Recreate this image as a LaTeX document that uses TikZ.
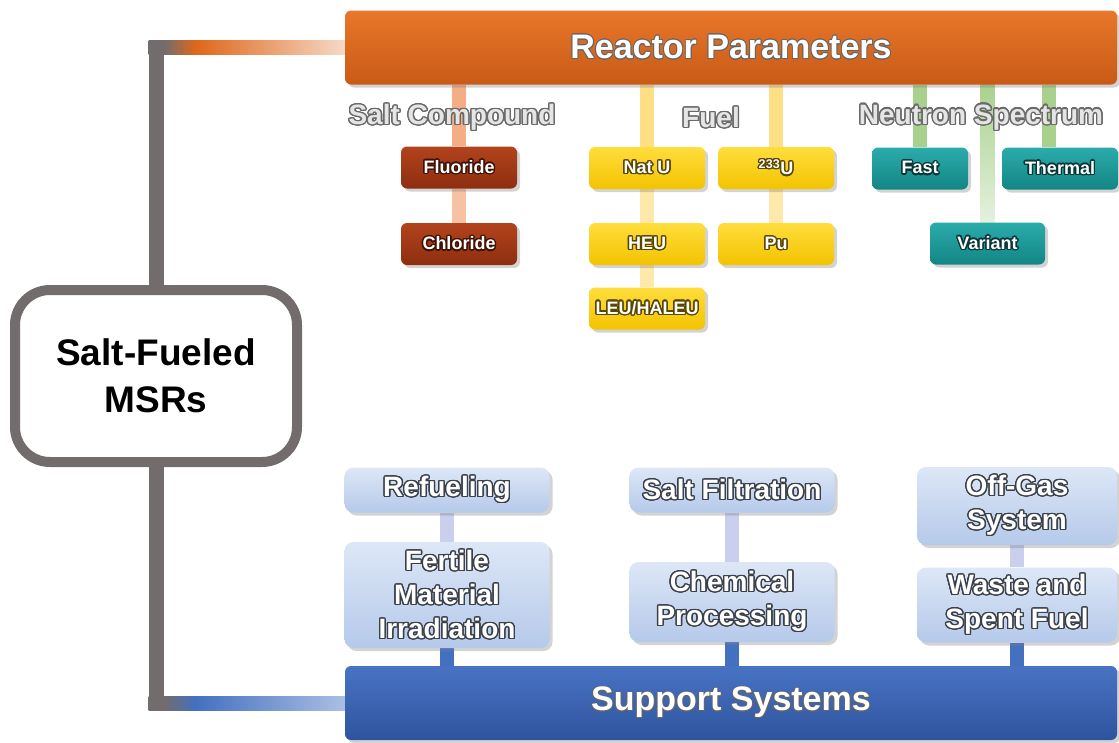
\documentclass[tikz,border=0pt]{standalone}
\usepackage{fontspec}
\setmainfont{Liberation Sans}
\usepackage{contour}
\contourlength{1.3pt}
\contournumber{24}
\usetikzlibrary{shadows,backgrounds,calc}

\definecolor{trunkgray}{HTML}{736C6C}
\definecolor{rptop}{HTML}{E8772A}
\definecolor{rpbot}{HTML}{C95A16}
\definecolor{rporange}{HTML}{DE671C}
\definecolor{salttop}{HTML}{B2431C}
\definecolor{saltbot}{HTML}{8E2E0F}
\definecolor{saltdark}{HTML}{3F1204}
\definecolor{fueltop}{HTML}{FFDD3C}
\definecolor{fuelbot}{HTML}{F3C300}
\definecolor{fueldark}{HTML}{594700}
\definecolor{spectop}{HTML}{2BABAB}
\definecolor{specbot}{HTML}{138585}
\definecolor{specdark}{HTML}{083636}
\definecolor{subtop}{HTML}{DDE7F6}
\definecolor{subbot}{HTML}{B5C9EA}
\definecolor{subdark}{HTML}{3B4049}
\definecolor{suptop}{HTML}{4873C4}
\definecolor{supbot}{HTML}{2F549E}
\definecolor{catdark}{HTML}{6A6A6A}
\definecolor{saltlink}{HTML}{F3AE86}
\definecolor{fuellink}{HTML}{FFDF85}
\definecolor{speclink}{HTML}{A9D18E}
\definecolor{sublink}{HTML}{C9CFEC}
\definecolor{suplink}{HTML}{4470C0}

\pgfdeclarehorizontalshading{trunkorange}{100bp}{color(0bp)=(trunkgray); color(29bp)=(trunkgray); color(37bp)=(rporange); color(75bp)=(rporange!25!white); color(100bp)=(rporange!25!white)}
\pgfdeclarehorizontalshading{trunkblue}{100bp}{color(0bp)=(trunkgray); color(29bp)=(trunkgray); color(37bp)=(suplink); color(75bp)=(suplink!45!white); color(100bp)=(suplink!45!white)}

\newcommand{\hdr}[1]{{\contourlength{0.8pt}\contour{black!60}{#1}}}
\newcommand{\olab}[2]{\contour{#1}{#2}}
\newcommand{\sublab}[1]{\contour{subdark}{#1}}

\tikzset{%
  box/.style = {rectangle, rounded corners=6pt, inner sep=0pt,
    align=center, text=white,
    drop shadow={opacity=0.35, shadow xshift=3pt, shadow yshift=-3pt}},
  bar/.style = {box, minimum width=772pt, minimum height=74pt,
    font=\fontsize{34}{40}\selectfont\bfseries},
  saltbox/.style = {box, minimum width=116pt, minimum height=42pt,
    top color=salttop, bottom color=saltbot,
    font=\fontsize{18}{20}\selectfont\bfseries},
  fuelbox/.style = {saltbox, top color=fueltop, bottom color=fuelbot},
  specbox/.style = {saltbox, top color=spectop, bottom color=specbot},
  subbox/.style = {box, minimum width=205pt, rounded corners=9pt,
    top color=subtop, bottom color=subbot,
    font=\fontsize{28}{34}\selectfont\bfseries},
  cat/.style = {inner sep=0pt, text=white!90!black,
    font=\fontsize{28}{32}\selectfont\bfseries},
  msrbox/.style = {rectangle, rounded corners=35pt, draw=trunkgray,
    line width=10pt, fill=white, minimum width=282pt, minimum height=172pt,
    align=center, font=\fontsize{37}{47}\selectfont\bfseries},
  link/.style = {line width=14pt},
  trunk/.style = {line width=15pt, draw=trunkgray}
}

\begin{document}
\begin{tikzpicture}[x=1pt, y=-1pt]
  \useasboundingbox (0,0) rectangle (1119,742);

  \node[bar, top color=rptop, bottom color=rpbot] (rp) at (731,47.5) {\hdr{Reactor Parameters}};
  \node[msrbox] (msr) at (156,376) {Salt-Fueled\\MSRs};

  % reactor parameters
  \node[cat] (saltcat) at (452,118) {\olab{catdark}{Salt Compound}};
  \node[cat] (fuelcat) at (711,118) {\olab{catdark}{Fuel}};
  \node[cat] (speccat) at (981,118) {\olab{catdark}{Neutron Spectrum}};

  \node[saltbox] (fluor) at (459,167.5) {\olab{saltdark}{Fluoride}};
  \node[saltbox] (chlor) at (459,244) {\olab{saltdark}{Chloride}};

  \node[fuelbox] (natu) at (647,168) {\olab{fueldark}{Nat U}};
  \node[fuelbox] (uiii) at (776,168) {\olab{fueldark}{\textsuperscript{233}U}};
  \node[fuelbox] (heu) at (647,244) {\olab{fueldark}{HEU}};
  \node[fuelbox] (pu) at (776,244) {\olab{fueldark}{Pu}};
  \node[fuelbox] (leu) at (647,308.5) {\olab{fueldark}{LEU/HALEU}};

  \node[specbox, minimum width=96pt] (fast) at (920,168.5) {\olab{specdark}{Fast}};
  \node[specbox] (therm) at (1060,168.5) {\olab{specdark}{Thermal}};
  \node[specbox, minimum width=115pt] (var) at (987.5,243.5) {\olab{specdark}{Variant}};

  % support systems
  \node[subbox, minimum height=45pt] (refuel) at (447,490) {\sublab{Refueling}};
  \node[subbox, minimum height=106pt] (fert) at (447,595)
    {\sublab{Fertile}\\\sublab{Material}\\\sublab{Irradiation}};
  \node[subbox, minimum height=45pt] (filt) at (732,490) {\sublab{Salt Filtration}};
  \node[subbox, minimum height=80pt] (chem) at (732,602)
    {\sublab{Chemical}\\\sublab{Processing}};
  \node[subbox, minimum width=200pt, minimum height=78pt] (offgas) at (1017,506)
    {\sublab{Off-Gas}\\\sublab{System}};
  \node[subbox, minimum width=200pt, minimum height=75pt] (waste) at (1017,605)
    {\sublab{Waste and}\\\sublab{Spent Fuel}};

  \node[bar, top color=suptop, bottom color=supbot] (ss) at (731,703) {\hdr{Support Systems}};

  \coordinate (thx) at ([xshift=-11pt]therm.north);

  \begin{scope}[on background layer]
    % trunk
    \draw[trunk] (msr.north) -- ($(msr.north |- rp.west)+(0,-7)$);
    \draw[trunk] (msr.south) -- ($(msr.south |- ss.west)+(0,7)$);
    \path[shading=trunkorange] ($(msr.north |- rp.west)+(-7.5,-7)$) rectangle ($(rp.west)+(0,7)$);
    \path[shading=trunkblue] ($(msr.south |- ss.west)+(-7.5,-7)$) rectangle ($(ss.west)+(0,7)$);

    \draw[link, saltlink] (rp.south -| fluor) -- (fluor.north);
    \draw[link, saltlink!75!white] (fluor) -- (chlor);

    \draw[link, fuellink] (rp.south -| natu) -- (natu.north);
    \draw[link, fuellink] (rp.south -| uiii) -- (uiii.north);
    \draw[link, fuellink!70!white] (natu) -- (heu);
    \draw[link, fuellink!70!white] (heu) -- (leu);
    \draw[link, fuellink!70!white] (uiii) -- (pu);

    \draw[link, speclink] (rp.south -| fast) -- (fast.north);
    \draw[link, speclink] (rp.south -| thx) -- (thx);
    \shade[top color=speclink, bottom color=speclink!30!white]
      ($(rp.south -| var)+(-7,0)$) rectangle ($(var.north)+(7,0)$);

    \draw[link, sublink] (refuel) -- (fert);
    \draw[link, sublink] (filt) -- (chem);
    \draw[link, sublink] (offgas) -- (waste);
    \draw[link, suplink] (fert) -- (ss.north -| fert);
    \draw[link, suplink] (chem) -- (ss.north -| chem);
    \draw[link, suplink] (waste) -- (ss.north -| waste);
  \end{scope}
\end{tikzpicture}
\end{document}
